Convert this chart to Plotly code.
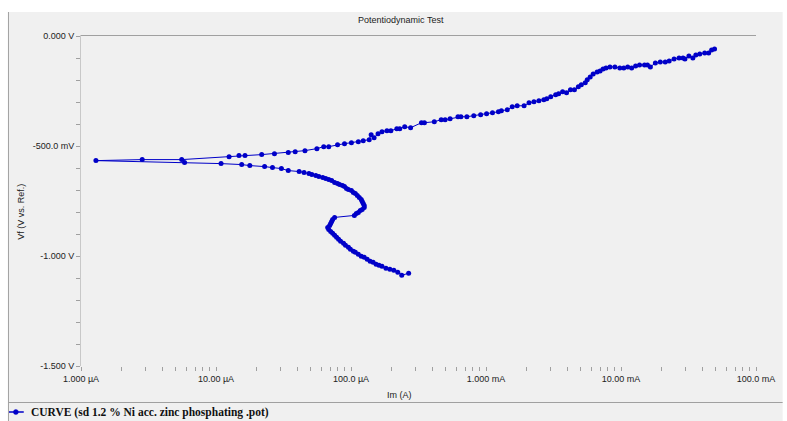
import numpy as np
import plotly.graph_objects as go

# Cathodic sweep: from the most negative potential up to the corrosion potential
cath_current_uA = [267.3, 237.6, 222.1, 207.6, 194.1, 181.5, 169.6, 161.3, 153.4, 145.8,
                   138.6, 131.8, 125.3, 119.1, 113.3, 107.7, 104.1, 99.0, 95.7, 91.0,
                   88.0, 83.7, 80.9, 78.2, 75.6, 73.1, 70.7, 68.4, 67.2, 69.5,
                   70.7, 71.9, 73.1, 75.6, 105.9, 109.5, 113.3, 117.2, 121.1, 125.3,
                   125.3, 123.2, 121.1, 119.1, 115.2, 111.4, 107.7, 104.1, 100.7, 95.7,
                   92.6, 89.5, 86.5, 82.3, 79.5, 75.6, 71.9, 68.4, 65.0, 61.8,
                   57.8, 54.9, 51.3, 48.8, 44.9, 41.3, 34.3, 30.5, 26.2, 22.9,
                   17.8, 15.5, 10.9, 5.85, 1.29]
cath_potential_mV = [-1078.4, -1087.4, -1073.8, -1064.8, -1060.3, -1055.7, -1046.7, -1042.1,
                     -1037.6, -1028.5, -1024.0, -1014.9, -1005.9, -1001.4, -992.3, -983.2,
                     -978.7, -969.6, -960.6, -951.5, -942.4, -933.4, -924.3, -915.3, -906.2,
                     -897.1, -888.1, -879.0, -870.0, -860.9, -851.8, -842.8, -833.7, -824.6,
                     -815.6, -806.5, -802.0, -793.0, -788.4, -779.3, -770.3, -761.2, -752.1,
                     -743.1, -734.0, -725.0, -715.9, -711.4, -702.3, -697.8, -693.2, -684.2,
                     -679.7, -675.1, -670.6, -666.1, -657.0, -652.5, -648.0, -643.4, -638.9,
                     -634.3, -629.8, -625.3, -620.7, -616.2, -611.7, -602.6, -598.1, -593.6,
                     -589.0, -584.5, -580.0, -575.4, -566.4]

# Anodic sweep: from the corrosion potential up to the end of the scan
anod_current_uA = [2.84, 5.57, 12.5, 14.8, 16.4, 21.8, 27.1, 34.3, 38.6, 45.6, 55.9, 62.8,
                   68.4, 79.5, 89.5, 100.7, 113.3, 123.2, 136.4, 141.0, 148.3, 158.6, 169.6,
                   184.6, 197.4, 218.4, 229.7, 249.9, 276.4, 332.6, 349.9, 414.0, 465.7,
                   498.2, 541.9, 620.0, 652.1, 721.6, 811.9, 912.8, 1010, 1117, 1236, 1300,
                   1438, 1564, 1702, 1915, 2083, 2266, 2466, 2682, 2820, 3017, 3281, 3451,
                   3693, 3950, 4224, 4519, 4833, 5083, 5438, 5623, 5914, 6221, 6654, 6998,
                   7362, 7743, 8282, 9010, 9800, 10480, 11210, 11990, 12830, 13720, 14930,
                   15700, 16510, 17970, 19540, 21260, 22740, 24730, 26910, 28780, 29770,
                   31840, 34060, 35830, 38320, 41690, 44590, 46900, 49320]
anod_potential_mV = [-561.8, -561.8, -548.3, -543.7, -543.7, -539.2, -534.7, -530.1, -525.6,
                     -521.1, -512.0, -502.9, -502.9, -493.9, -489.3, -484.8, -480.3, -475.8,
                     -471.2, -448.6, -462.2, -444.0, -435.0, -430.4, -430.4, -421.4, -421.4,
                     -412.3, -416.9, -394.2, -394.2, -389.7, -380.6, -380.6, -376.1, -367.0,
                     -367.0, -367.0, -362.5, -357.9, -353.4, -348.9, -344.4, -339.8, -335.3,
                     -321.7, -317.2, -317.2, -303.6, -299.0, -294.5, -290.0, -285.5, -276.4,
                     -267.3, -262.8, -253.7, -258.3, -244.7, -244.7, -231.1, -222.0, -213.0,
                     -199.4, -185.8, -172.2, -163.1, -158.6, -149.5, -145.0, -140.5, -140.5,
                     -145.0, -145.0, -140.5, -145.0, -135.9, -131.4, -131.4, -131.4, -140.5,
                     -122.3, -117.8, -117.8, -113.3, -104.2, -99.7, -99.7, -104.2, -90.6,
                     -99.7, -86.1, -81.6, -77.0, -77.0, -63.4, -58.9]

# Axis ticks
x_decade_labels = {-6: "1.000 µA", -5: "10.00 µA", -4: "100.0 µA",
                   -3: "1.000 mA", -2: "10.00 mA", -1: "100.0 mA"}
y_tick_labels = {0.0: "0.000 V", -0.5: "-500.0 mV", -1.0: "-1.000 V", -1.5: "-1.500 V"}

current_A = np.array(cath_current_uA + anod_current_uA) * 1e-6
potential_V = np.array(cath_potential_mV + anod_potential_mV) / 1000.0

x_tickvals, x_ticktext = [], []
for dec in range(-6, 0):
    for m in range(1, 10):
        if dec == -1 and m > 1:
            break
        x_tickvals.append(m * 10.0 ** dec)
        x_ticktext.append(x_decade_labels[dec] if m == 1 else "")

y_tickvals = [round(-0.1 * i, 1) for i in range(0, 16)]
y_ticktext = [y_tick_labels.get(v, "") for v in y_tickvals]

BLUE = "#0000C8"
PANEL = "#F0F0F0"
EDGE = "#A0A0A0"
TXT = "#222222"
FONT = "Liberation Sans, Arial, sans-serif"

# page geometry (pixels) -> paper coordinates
W, H = 787, 421
L, R, T, B = 81, 765, 36, 366


def px(p):
    return (p - L) / (R - L)


def py(p):
    return (B - p) / (B - T)


fig = go.Figure()
fig.add_trace(go.Scatter(
    x=current_A, y=potential_V, mode="lines+markers",
    line=dict(color=BLUE, width=1),
    marker=dict(color=BLUE, size=5),
    name="CURVE (sd 1.2 % Ni acc. zinc phosphating .pot)",
    showlegend=False,
))

shapes = [
    # grey chart panel with a left rule
    dict(type="rect", xref="paper", yref="paper", x0=px(7), x1=px(W + 5), y0=py(H + 5), y1=py(12),
         fillcolor=PANEL, line=dict(width=0), layer="below"),
    dict(type="line", xref="paper", yref="paper", x0=px(7.5), x1=px(7.5), y0=py(H + 5), y1=py(12),
         line=dict(color=EDGE, width=1), layer="below"),
    # separator above the legend strip
    dict(type="line", xref="paper", yref="paper", x0=px(7.5), x1=px(W + 5), y0=py(402.5), y1=py(402.5),
         line=dict(color=EDGE, width=1), layer="below"),
    # plot frame: top and left edges
    dict(type="line", xref="paper", yref="paper", x0=px(L - 0.5), x1=px(R), y0=py(T - 0.5), y1=py(T - 0.5),
         line=dict(color=EDGE, width=1)),
    dict(type="line", xref="paper", yref="paper", x0=px(L - 0.5), x1=px(L - 0.5), y0=py(B), y1=py(T - 0.5),
         line=dict(color="#C8C8C8", width=1)),
    # legend key: short line with a marker
    dict(type="line", xref="paper", yref="paper", x0=px(8), x1=px(23), y0=py(412), y1=py(412),
         line=dict(color=BLUE, width=1.5)),
    dict(type="circle", xref="paper", yref="paper", x0=px(12.5), x1=px(17.5), y0=py(414.5), y1=py(409.5),
         fillcolor=BLUE, line=dict(color=BLUE, width=0.5)),
]

annotations = [
    dict(text="Potentiodynamic Test", xref="paper", yref="paper", x=px(405), y=py(20),
         showarrow=False, font=dict(family=FONT, size=9, color=TXT), xanchor="center", yanchor="middle"),
    dict(text="Im (A)", xref="paper", yref="paper", x=px(404), y=py(395),
         showarrow=False, font=dict(family=FONT, size=9, color=TXT), xanchor="center", yanchor="middle"),
    dict(text="Vf (V vs. Ref.)", xref="paper", yref="paper", x=px(20), y=py(212), textangle=-90,
         showarrow=False, font=dict(family=FONT, size=9, color=TXT), xanchor="center", yanchor="middle"),
    dict(text="<b>CURVE (sd 1.2 % Ni acc. zinc phosphating .pot)</b>", xref="paper", yref="paper",
         x=px(28), y=py(412), showarrow=False, xanchor="left", yanchor="middle",
         font=dict(family="Liberation Serif, Times New Roman, serif", size=11.5, color="#111111")),
]

fig.update_layout(
    width=W, height=H,
    margin=dict(l=L, r=W - R, t=T, b=H - B, pad=0),
    paper_bgcolor="white", plot_bgcolor="white",
    shapes=shapes, annotations=annotations,
    font=dict(family=FONT, size=9, color=TXT),
)
fig.update_xaxes(type="log", range=[-6, -1], tickvals=x_tickvals, ticktext=x_ticktext,
                 ticks="outside", ticklen=4, tickcolor=EDGE, tickwidth=1,
                 tickfont=dict(family=FONT, size=9, color=TXT),
                 showgrid=False, zeroline=False, showline=False)
fig.update_yaxes(range=[-1.5, 0], tickvals=y_tickvals, ticktext=y_ticktext,
                 ticks="outside", ticklen=4, tickcolor=EDGE, tickwidth=1,
                 tickfont=dict(family=FONT, size=9, color=TXT),
                 showgrid=False, zeroline=False, showline=False)

fig.write_html("out.html")
